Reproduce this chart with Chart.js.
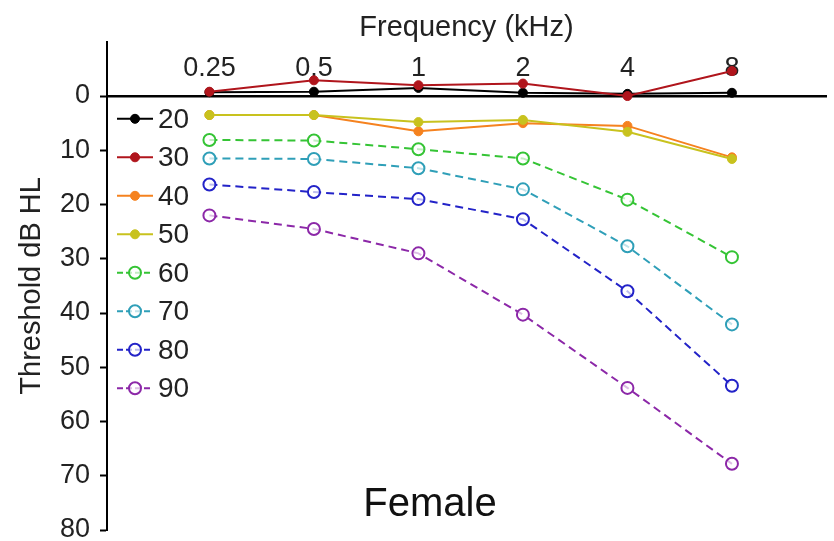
<!DOCTYPE html>
<html>
<head>
<meta charset="utf-8">
<script src="https://cdn.jsdelivr.net/npm/chart.js@4/dist/chart.umd.min.js"></script>
<style>
  html, body { margin: 0; padding: 0; background: #fff; }
  #wrap { width: 834px; height: 541px; }
</style>
</head>
<body>
<div id="wrap"><canvas id="audioChart"></canvas></div>
<script>
// frequency categories (kHz) and age groups
const freqLabels = ['0.25', '0.5', '1', '2', '4', '8'];
const ageGroups = ['20', '30', '40', '50', '60', '70', '80', '90'];
const yTicks = [0, 10, 20, 30, 40, 50, 60, 70, 80];

// mean thresholds in dB HL, one array per age group
const thr20 = [-0.7, -0.8, -1.5, -0.6, -0.4, -0.6];
const thr30 = [-0.8, -2.9, -2.0, -2.3, 0.0, -4.6];
const thr40 = [3.5, 3.5, 6.5, 5.0, 5.5, 11.3];
const thr50 = [3.5, 3.5, 4.8, 4.4, 6.6, 11.6];
const thr60 = [8.1, 8.2, 9.8, 11.5, 19.1, 29.7];
const thr70 = [11.5, 11.6, 13.3, 17.2, 27.7, 42.1];
const thr80 = [16.3, 17.7, 19.0, 22.7, 36.0, 53.4];
const thr90 = [22.0, 24.5, 29.0, 40.3, 53.8, 67.8];

const allSeries = [thr20, thr30, thr40, thr50, thr60, thr70, thr80, thr90];
const colors = ['#000000', '#b0151c', '#f5821f', '#c8c21e', '#35c435', '#2f9fb8', '#2323c8', '#8c28a8'];

Chart.defaults.font.family = '"Liberation Sans", Arial, sans-serif';
Chart.defaults.color = '#222';

const datasets = allSeries.map((vals, i) => {
  const open = i >= 4;
  return {
    label: ageGroups[i],
    data: vals.map((v, k) => ({ x: k, y: v })),
    borderColor: colors[i],
    backgroundColor: open ? 'rgba(255,255,255,0.7)' : colors[i],
    pointBorderColor: colors[i],
    borderWidth: 2,
    borderDash: open ? [8, 5] : [],
    pointRadius: open ? 6 : 4.5,
    pointBorderWidth: open ? 2 : 1,
    pointStyle: 'circle',
    tension: 0,
    order: -i
  };
});

// legend drawn inside the plot, line + marker + label
const insideLegend = {
  id: 'insideLegend',
  afterDatasetsDraw(chart) {
    const { ctx, chartArea } = chart;
    ctx.save();
    chart.data.datasets.forEach((ds, i) => {
      const y = chartArea.top + 77 + i * 38.5;
      const x0 = chartArea.left + 10;
      ctx.strokeStyle = ds.borderColor;
      ctx.lineWidth = 2;
      ctx.setLineDash(ds.borderDash.length ? [6, 3] : []);
      ctx.beginPath();
      ctx.moveTo(x0, y);
      ctx.lineTo(x0 + 36, y);
      ctx.stroke();
      ctx.setLineDash([]);
      ctx.beginPath();
      ctx.arc(x0 + 18, y, ds.pointRadius, 0, Math.PI * 2);
      ctx.fillStyle = ds.backgroundColor;
      ctx.fill();
      ctx.lineWidth = ds.pointBorderWidth;
      ctx.stroke();
      ctx.fillStyle = '#222';
      ctx.font = '28px "Liberation Sans", Arial, sans-serif';
      ctx.textAlign = 'left';
      ctx.textBaseline = 'middle';
      ctx.fillText(ds.label, x0 + 41, y + 1);
    });
    ctx.font = '40px "Liberation Sans", Arial, sans-serif';
    ctx.textAlign = 'center';
    ctx.textBaseline = 'alphabetic';
    ctx.fillStyle = '#111';
    ctx.fillText('Female', chartArea.left + 323, chartArea.bottom - 14);
    ctx.restore();
  }
};

new Chart(document.getElementById('audioChart'), {
  type: 'line',
  data: { datasets: datasets },
  plugins: [insideLegend],
  options: {
    responsive: true,
    maintainAspectRatio: false,
    animation: false,
    layout: { padding: { left: 0, right: 5, top: 0, bottom: 11 } },
    plugins: {
      legend: { display: false },
      tooltip: { enabled: false },
      title: {
        display: true,
        text: 'Frequency (kHz)',
        fullSize: false,
        color: '#222',
        font: { size: 29, weight: 'normal' },
        padding: { top: 11, bottom: -4 }
      }
    },
    scales: {
      x: {
        type: 'linear',
        min: -0.98,
        max: 5.9,
        position: { y: 0 },
        afterBuildTicks: (axis) => { axis.ticks = freqLabels.map((_, k) => ({ value: k })); },
        ticks: {
          callback: (v) => freqLabels[v],
          font: { size: 27 },
          color: '#222',
          padding: -44,
          maxRotation: 0,
          autoSkip: false
        },
        grid: { display: false, drawTicks: false },
        border: { display: true, color: '#000', width: 2.5 }
      },
      y: {
        type: 'linear',
        reverse: true,
        min: -10,
        max: 80,
        afterBuildTicks: (axis) => { axis.ticks = yTicks.map(v => ({ value: v })); },
        afterFit: (axis) => {
          axis.width = 107;
          axis.paddingTop = 0;
          axis.paddingBottom = 0;
        },
        ticks: { font: { size: 27 }, color: '#222', padding: 10 },
        grid: { drawOnChartArea: false, drawTicks: true, tickLength: 7, tickColor: '#000', tickWidth: 2 },
        border: { display: true, color: '#000', width: 2 },
        title: {
          display: true,
          text: 'Threshold dB HL',
          color: '#222',
          font: { size: 29 },
          padding: { top: 15, bottom: 0 }
        }
      }
    }
  }
});
</script>
</body>
</html>
